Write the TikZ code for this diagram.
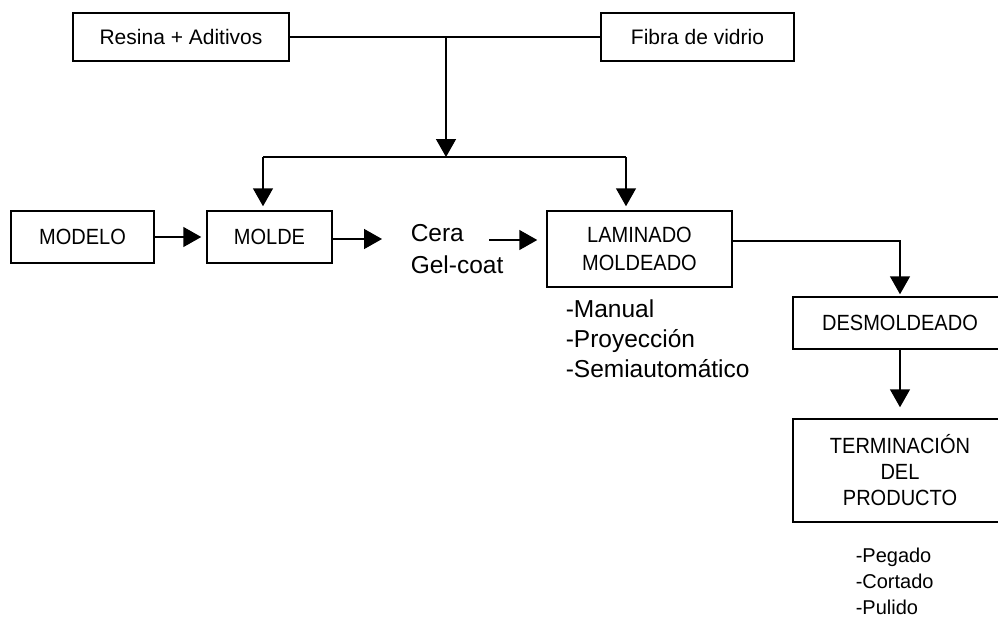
\documentclass[tikz,border=0pt]{standalone}
\usepackage{fontspec}
\setmainfont{Liberation Sans}
\newfontfamily\narrowfont[FakeStretch=0.91]{Liberation Sans}
\usetikzlibrary{arrows.meta}

\begin{document}
\begin{tikzpicture}[x=1pt,y=-1pt,>={Triangle[width=20pt,length=18pt]},line width=1.5pt,
  procbox/.style={draw,line width=1.5pt,inner sep=0pt,align=center},
  toptext/.style={font=\fontsize{21}{25}\selectfont},
  captext/.style={font=\narrowfont\fontsize{22}{28}\selectfont},
  listbig/.style={align=left,inner sep=0pt,font=\fontsize{24.5}{30}\selectfont},
  listsmall/.style={align=left,inner sep=0pt,font=\fontsize{20}{26}\selectfont}]
%%
\useasboundingbox (0,0) rectangle (998,621);
\node (resina) at (181,37) [procbox,toptext,minimum width=216pt,minimum height=48pt] {Resina + Aditivos};
  \node (fibra) at (697.5,37) [procbox,toptext,minimum width=193pt,minimum height=48pt] {Fibra de vidrio};
  \node (modelo) at (82.5,237) [procbox,captext,minimum width=143pt,minimum height=52pt] {MODELO};
  \node (molde) at (269.5,237) [procbox,captext,minimum width=125pt,minimum height=52pt] {MOLDE};
  \node (cera) at (410,249) [anchor=west,listbig,font=\fontsize{24.5}{32}\selectfont] {Cera\\Gel-coat};
  \node (laminado) at (639.5,249) [procbox,captext,minimum width=185pt,minimum height=76pt] {LAMINADO\\MOLDEADO};
  \node (metodos) at (565,339) [anchor=west,listbig] {-Manual\\-Proyección\\-Semiautomático};
  \node (desmoldeado) at (900,323) [procbox,captext,minimum width=214pt,minimum height=52pt] {DESMOLDEADO};
  \node (terminacion) at (900,470.5) [procbox,captext,font=\narrowfont\fontsize{22}{26}\selectfont,minimum width=214pt,minimum height=103pt] {TERMINACIÓN\\DEL\\PRODUCTO};
  \node (acabados) at (855,581) [anchor=west,listsmall] {-Pegado\\-Cortado\\-Pulido};
  \coordinate (union) at (446,37);
  \coordinate (reparto) at (446,157);
  \coordinate (ramaizq) at (263,157);
  \coordinate (ramader) at (626,157);
  \coordinate (ceraout) at (489,240);
  \coordinate (moldeout) at (382,239);
  \draw (resina) -- (fibra);
  \draw [->] (union) -- (reparto);
  \draw (ramaizq) -- (ramader);
  \draw [->,shorten >=4pt] (ramaizq) -- (ramaizq |- molde.north);
  \draw [->,shorten >=4pt] (ramader) -- (ramader |- laminado.north);
  \draw [->,shorten >=5pt] (modelo) -- (molde);
  \draw [->] (molde.east |- moldeout) -- (moldeout);
  \draw [->,shorten >=9pt] (ceraout) -- (ceraout -| laminado.west);
  \draw [->,shorten >=2pt] ([yshift=8pt]laminado.east) -| (desmoldeado.north);
  \draw [->,shorten >=11pt] (desmoldeado) -- (terminacion);
%
\end{tikzpicture}
\end{document}
